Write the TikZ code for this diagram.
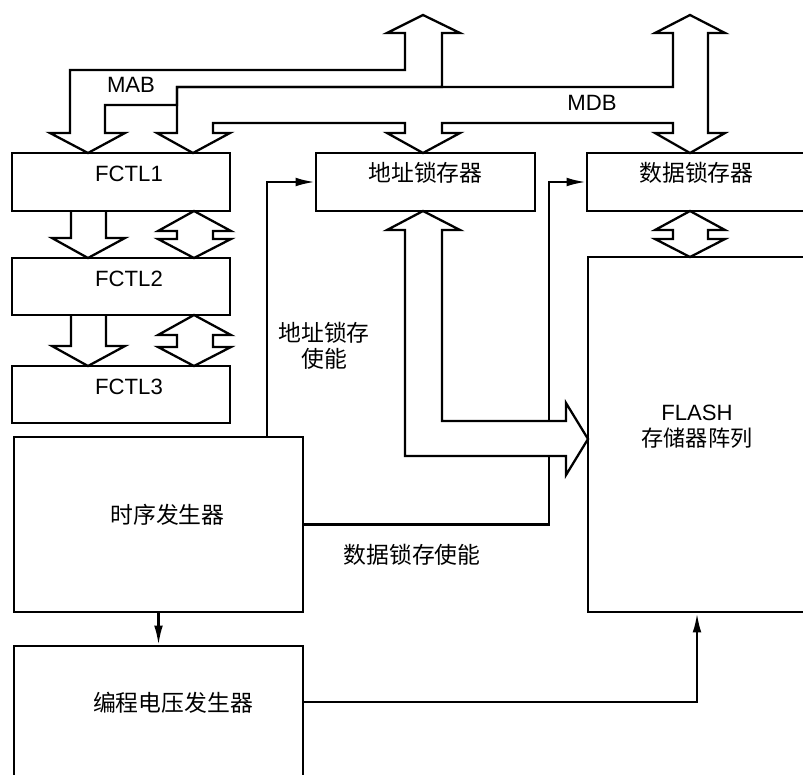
\documentclass[tikz,border=0pt]{standalone}
\usepackage{fontspec}
\setmainfont{Liberation Sans}
\newfontfamily\cjk{Noto Sans CJK SC}
\usetikzlibrary{arrows.meta, positioning, fit, calc}

\begin{document}
\begin{tikzpicture}[
  x=0.02cm, y=-0.02cm,
  font=\fontsize{12.6}{14.5}\selectfont,
  >={Latex[length=11pt,width=5pt]},
  line width=1.3pt,
  blk/.style={draw, inner sep=0pt, align=center},
  tshift/.style={execute at begin node={\hspace*{#1}}},
  sig/.style={->},
  bus/.style={draw, line join=miter},
  zh/.style={font=\cjk\fontsize{13}{14.5}\selectfont, align=center},
]
  \clip (0,0) rectangle (803,774);

  % blocks
  \node[blk, fit={(12,153) (230,211)}, tshift=0.32cm] (f1) {FCTL1};
  \node[blk, fit={(12,258) (230,315)}, tshift=0.32cm] (f2) {FCTL2};
  \node[blk, fit={(12,366) (230,423)}, tshift=0.32cm] (f3) {FCTL3};
  \node[blk, fit={(14,437) (303,612)}, zh, tshift=0.36cm] (timing) {时序发生器};
  \node[blk, fit={(14,646) (303,778)}, zh, tshift=0.58cm] (prog) {编程电压发生器};
  \node[blk, fit={(316,153) (535,211)}, zh] (alatch) {地址锁存器};
  \node[blk, fit={(587,153) (806,211)}, zh] (dlatch) {数据锁存器};
  \node[blk, fit={(588,257) (806,612)}] (flash) {FLASH\\{\cjk 存储器阵列}};

  % bus labels
  \node (mab) at (131,85) {MAB};
  \node (mdb) at (592,103) {MDB};

  % control lines
  \coordinate (aen) at (267,300);
  \coordinate (den) at (549,400);
  \draw[sig] (timing.north -| aen) |- (alatch.west);
  \draw[sig] (timing.east) -| (den) |- (dlatch.west);
  \draw[sig] (timing.south) -- (prog.north);
  \draw[sig] ([yshift=0.2cm]prog.east) -| (flash.south);
  \node[zh] (aenlab) at (324,346) {地址锁存\\使能};
  \node[zh] (denlab) at (412,555) {数据锁存使能};

  % MAB
  \draw[bus] (88,153) -- (50,133) -- (70,133) -- (70,70) -- (405,70) -- (405,33)
    -- (387,33) -- (423,15) -- (460,33) -- (442,33) -- (442,87) -- (177,87)
    -- (177,105) -- (105,105) -- (105,133) -- (125,133) -- cycle;
  % MDB
  \draw[bus] (193,153) -- (157,133) -- (177,133) -- (177,87) -- (673,87) -- (673,33)
    -- (655,33) -- (690,15) -- (725,33) -- (708,33) -- (708,133) -- (725,133)
    -- (690,153) -- (655,133) -- (673,133) -- (673,123) -- (442,123) -- (442,133)
    -- (460,133) -- (423,153) -- (387,133) -- (405,133) -- (405,123) -- (213,123)
    -- (213,133) -- (230,133) -- cycle;

  % FCTL chain
  \foreach \a/\b in {211/258, 315/366} {
    \draw[bus] (71,\a) -- (71,\b-20) -- (52,\b-20) -- (88,\b) -- (125,\b-20)
      -- (106,\b-20) -- (106,\a);
    \draw[bus] (194,\a) -- (231,\a+20) -- (213,\a+20) -- (213,\b-19) -- (231,\b-19)
      -- (194,\b) -- (158,\b-19) -- (177,\b-19) -- (177,\a+20) -- (158,\a+20) -- cycle;
  }

  % data latch <-> flash
  \draw[bus] (690,211) -- (725,230) -- (708,230) -- (708,239) -- (725,239) -- (690,257)
    -- (655,239) -- (673,239) -- (673,230) -- (655,230) -- cycle;

  % address latch <-> flash
  \draw[bus, fill=white] (423,211) -- (460,230) -- (442,230) -- (442,421) -- (566,421)
    -- (566,403) -- (588,439) -- (566,475) -- (566,456) -- (405,456) -- (405,230)
    -- (387,230) -- cycle;
\end{tikzpicture}
\end{document}
